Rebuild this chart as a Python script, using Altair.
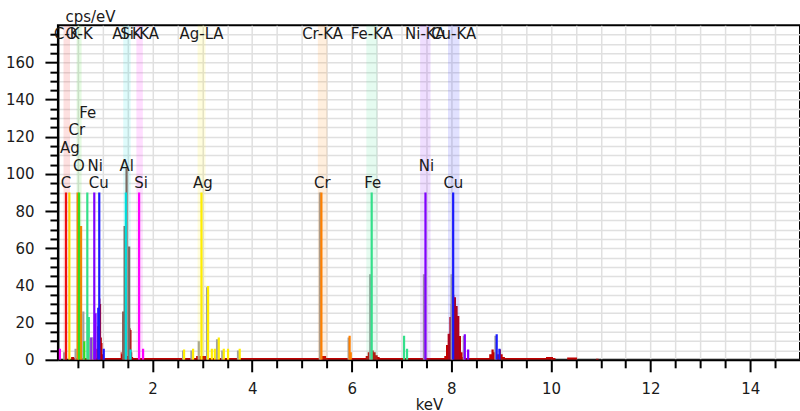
import altair as alt
import pandas as pd

# ---------------- axis tick values ----------------
x_tick_values = [0.5, 1.0, 1.5, 2.0, 2.5, 3.0, 3.5, 4.0, 4.5, 5.0, 5.5, 6.0, 6.5, 7.0,
                 7.5, 8.0, 8.5, 9.0, 9.5, 10.0, 10.5, 11.0, 11.5, 12.0, 12.5, 13.0,
                 13.5, 14.0, 14.5]
y_tick_values = [0, 5, 10, 15, 20, 25, 30, 35, 40, 45, 50, 55, 60, 65, 70, 75, 80, 85,
                 90, 95, 100, 105, 110, 115, 120, 125, 130, 135, 140, 145, 150, 155,
                 160, 165, 170, 175]

# ---------------- measured spectrum (dark red) ----------------
spec_kev = [0.36, 0.37, 0.41, 0.45, 0.86, 0.88, 0.90, 0.92, 0.945, 0.96, 0.975, 0.99,
            1.00, 1.02, 1.35, 1.37, 1.39, 1.42, 1.50, 1.55, 1.57, 1.585, 1.60, 1.62,
            2.85, 2.90, 3.05, 3.10, 5.33, 5.36, 5.47, 5.50,
            6.26, 6.30, 6.34, 6.38, 6.42, 6.46, 6.50, 6.54, 6.58,
            7.84, 7.876, 7.908, 7.942, 7.976, 8.00, 8.04, 8.076, 8.109, 8.143, 8.177,
            8.21, 8.243, 8.28, 8.74, 8.78, 8.83, 8.87, 8.93, 8.98, 9.01, 9.05, 9.10,
            9.80, 10.00, 10.08, 10.10, 10.32, 10.33, 10.52, 10.53, 10.90, 10.91, 10.95,
            10.96]
spec_cps = [0, 1.5, 1.5, 1, 1, 6, 18, 28, 33, 30, 12, 9,
            3, 1, 1, 4, 3, 1.5, 2, 17, 16, 4, 1.5, 1,
            1, 2, 2, 1, 1, 2, 2, 1,
            1, 2, 4, 5, 5, 4, 2.5, 1.5, 1,
            1, 2, 8, 14, 23, 30, 35, 33.6, 29, 23.6, 12.8,
            4, 1.5, 1, 1, 3, 5.5, 4, 3, 5.5, 3, 1.5, 1,
            1, 1.5, 1, 0, 0, 1.2, 1.2, 0, 0, 0.6, 0.6,
            0]

# ---------------- element / reference lines ----------------
line_kev = [0.14, 0.225, 0.262, 0.33, 0.455, 0.495, 0.525, 0.565, 0.61, 0.63,
            0.69, 0.72, 0.75, 0.775, 0.80, 0.83, 0.856, 0.91, 0.93, 1.02,
            1.41, 1.44, 1.478, 1.464, 1.53, 1.558, 1.73, 1.81,
            2.613, 2.633, 2.78, 2.814, 2.928, 2.982, 3.095, 3.115, 3.19, 3.25,
            3.295, 3.33, 3.40, 3.43, 3.516, 3.716, 3.75,
            5.36, 5.39, 5.937, 5.957, 5.98,
            6.37, 6.40, 7.05, 7.11,
            7.45, 7.48, 8.25, 8.27, 8.337,
            8.005, 8.036, 8.885, 8.91, 8.965]
line_cps = [6, 4, 90, 90, 6, 90, 90, 72, 26, 10,
            90, 23, 12, 12, 12, 90, 25, 28, 90, 6,
            26, 72, 103, 90, 61, 5.6, 90, 6,
            5, 5.6, 5, 6, 10, 90, 39, 39.7, 6, 6,
            11, 12, 5, 6, 6, 5, 6,
            90, 90, 12, 13, 4,
            46, 90, 13, 6,
            46, 90, 13, 13.7, 5.6,
            46, 90, 13, 13.7, 6]
line_series = ["Si", "gray", "C", "Ag", "gray", "Cr", "O", "Cr", "gray", "O",
               "Fe", "Fe", "gray", "Ni", "gray", "Ni", "Ni", "Cu", "Cu", "Cu",
               "brown", "brown", "brown", "Al", "brown", "Al", "Si", "Si",
               "gray", "Ag", "gray", "Ag", "gray", "Ag", "gray", "Ag", "Ag", "Ag",
               "gray", "Ag", "gray", "Ag", "Ag", "gray", "Ag",
               "gray", "Cr", "gray", "Cr", "Cr",
               "gray", "Fe", "Fe", "Fe",
               "gray", "Ni", "gray", "Ni", "Ni",
               "gray", "Cu", "gray", "Cu", "Cu"]

# ---------------- marker bands ----------------
band_names = ["C-K", "O-K", "Al-K", "Si-KA", "Ag-LA", "Cr-KA", "Fe-KA", "Ni-KA", "Cu-KA"]
band_series = ["C", "O", "Al", "Si", "Ag", "Cr", "Fe", "Ni", "Cu"]
band_kev = [0.277, 0.525, 1.486, 1.74, 2.984, 5.414, 6.403, 7.477, 8.047]
band_width = [0.13, 0.10, 0.15, 0.13, 0.16, 0.19, 0.22, 0.21, 0.23]
band_label_cps = [175.5] * 9
band_bottom = [0] * 9
band_top = [180] * 9

# ---------------- element labels ----------------
label_text = ["C", "Ag", "Cr", "Fe", "O", "Ni", "Cu", "Al", "Si", "Ag", "Cr", "Fe", "Ni", "Cu"]
label_kev = [0.26, 0.34, 0.48, 0.70, 0.52, 0.85, 0.92, 1.48, 1.77, 3.01, 5.41, 6.42, 7.50, 8.04]
label_cps = [95, 114, 123.5, 133, 104.5, 104.5, 95, 104.5, 95, 95, 95, 95, 104.5, 95]

series_names = ["C", "O", "Al", "Si", "Ag", "Cr", "Fe", "Ni", "Cu", "gray", "brown"]
series_colors = ["#ee1111", "#33dd22", "#00dddd", "#ff00ff", "#ffee00", "#ff8000",
                 "#33e08a", "#8000ff", "#1a1aff", "#a0a0a0", "#8c5a50"]

# ---------------- data frames ----------------
spec_df = pd.DataFrame({"keV": spec_kev, "cps": spec_cps})
line_df = pd.DataFrame({"keV": line_kev, "cps": line_cps, "series": line_series,
                        "base": [0] * len(line_kev)})
band_df = pd.DataFrame({
    "name": band_names, "series": band_series, "keV": band_kev,
    "lo": [c - w / 2 for c, w in zip(band_kev, band_width)],
    "hi": [c + w / 2 for c, w in zip(band_kev, band_width)],
    "cps": band_label_cps, "bottom": band_bottom, "top": band_top,
})
label_df = pd.DataFrame({"text": label_text, "keV": label_kev, "cps": label_cps})

# ---------------- scales / axes ----------------
xscale = alt.Scale(domain=[0.1, 15], nice=False, zero=False)
yscale = alt.Scale(domain=[0, 180], nice=False)
cscale = alt.Scale(domain=series_names, range=series_colors)

x_axis = alt.Axis(
    title="keV", values=x_tick_values,
    labelExpr="datum.value % 2 === 0 ? '' + datum.value : ''",
    tickSize={"condition": {"test": "datum.value % 2 === 0", "value": 12}, "value": 8},
    labelPadding=10, labelOverlap=False,
    titleY=50, titleBaseline="alphabetic",
)
y_axis = alt.Axis(
    title="cps/eV", values=y_tick_values,
    labelExpr="datum.value % 20 === 0 ? '' + datum.value : ''",
    tickSize={"condition": {"test": "datum.value % 20 === 0", "value": 13}, "value": 8},
    labelPadding=11, labelOverlap=False,
    titleAngle=0, titleAlign="left", titleBaseline="alphabetic", titleX=7, titleY=-4,
)


def X(f):
    return alt.X(f"{f}:Q", scale=xscale, axis=x_axis)


def Y(f):
    return alt.Y(f"{f}:Q", scale=yscale, axis=y_axis)


spectrum = alt.Chart(spec_df).mark_area(
    color="#c00000", clip=True, interpolate="step").encode(
    x=X("keV"), y=Y("cps"))

lines = alt.Chart(line_df).mark_rule(strokeWidth=2.2, clip=True).encode(
    x=X("keV"), y=Y("base"), y2=alt.Y2("cps:Q"),
    color=alt.Color("series:N", scale=cscale, legend=None))

bands = alt.Chart(band_df).mark_rect(opacity=0.13, clip=True).encode(
    x=X("lo"), x2=alt.X2("hi:Q"),
    y=Y("bottom"), y2=alt.Y2("top:Q"),
    color=alt.Color("series:N", scale=cscale, legend=None))

band_text = alt.Chart(band_df).mark_text(
    fontSize=15, color="#1a1a1a", align="center", baseline="middle").encode(
    x=X("keV"), y=Y("cps"), text="name:N")

elem_text = alt.Chart(label_df).mark_text(
    fontSize=15, color="#1a1a1a", align="center", baseline="middle").encode(
    x=X("keV"), y=Y("cps"), text="text:N")

chart = alt.layer(spectrum, lines, bands, band_text, elem_text).properties(
    width=743, height=335,
    autosize=alt.AutoSizeParams(type="none"),
    padding={"left": 58, "top": 25, "right": 0, "bottom": 51},
).configure(font="DejaVu Sans").configure_view(
    stroke="black", strokeWidth=2
).configure_axis(
    domainColor="black", domainWidth=2, tickColor="black", tickWidth=2,
    gridColor="#e0e0e0", gridWidth=1.5,
    labelFontSize=15, labelColor="#1a1a1a", labelFont="DejaVu Sans",
    titleFontSize=15, titleColor="#1a1a1a", titleFont="DejaVu Sans",
    titleFontWeight="normal",
)

chart.save("out.html", embed_options={"renderer": "svg", "actions": False})
